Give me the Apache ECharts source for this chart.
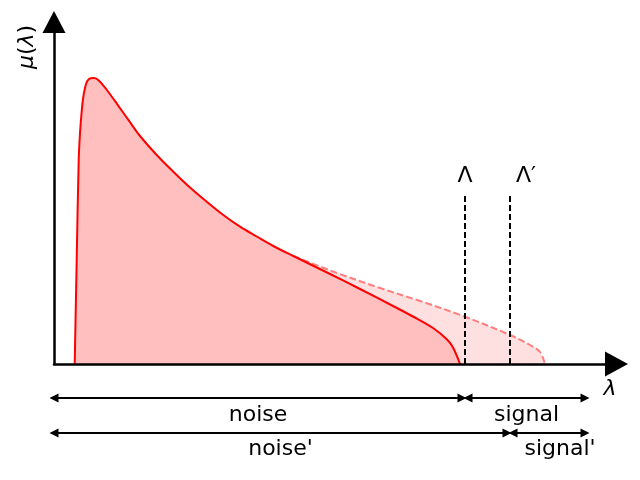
<!DOCTYPE html>
<html>
<head>
<meta charset="utf-8">
<script src="https://cdn.jsdelivr.net/npm/echarts@6/dist/echarts.min.js"></script>
<style>
  html, body { margin: 0; padding: 0; background: #fff; }
  #chart { width: 640px; height: 480px; }
</style>
</head>
<body>
<div id="chart"></div>
<script>
// spectrum mu(lambda)
const lam = [0.207, 0.227, 0.247, 0.26, 0.273, 0.29, 0.31, 0.333, 0.367, 0.40, 0.433, 0.483, 0.533,
  0.633, 0.767, 0.86, 1.027, 1.193, 1.36, 1.527, 1.693, 1.86, 2.027, 2.193, 2.393,
  2.73, 3.06, 3.39, 3.59, 3.79, 3.93, 3.99, 4.06]
const mu = [0, 1.04, 2.04, 2.31, 2.48, 2.65, 2.76, 2.83, 2.857, 2.86, 2.847, 2.797, 2.735,
  2.597, 2.408, 2.28, 2.09, 1.923, 1.765, 1.623, 1.49, 1.373, 1.275, 1.18, 1.08,
  0.915, 0.75, 0.58, 0.475, 0.36, 0.245, 0.165, 0]
// the other spectrum, dashed from where it leaves the first one
const lam2 = [2.393, 2.83, 3.26, 3.66, 4.09, 4.56, 4.76, 4.86, 4.91]
const mu2 = [1.08, 0.91, 0.76, 0.63, 0.48, 0.29, 0.19, 0.12, 0]
// cutoffs
const cutoffs = [4.11, 4.56]
const cutoffNames = ['Λ', 'Λ′']
const cutoffTop = 1.71
// ranges drawn under the axis
const rangeNames = ['noise', 'signal', "noise'", "signal'"]
const rangeFrom = [0, 4.14, 0, 4.59]
const rangeTo = [4.08, 5.31, 4.53, 5.31]
const rangeRow = [-0.34, -0.34, -0.69, -0.69]

const font = 'DejaVu Sans'
const chart = echarts.init(document.getElementById('chart'))

const pairs = (xs, ys) => xs.map((x, i) => [x, ys[i]])

const axisLine = (size) => ({
  show: true,
  onZero: true,
  symbol: ['none', 'triangle'],
  symbolSize: size,
  lineStyle: { color: '#000', width: 2.5 }
})

const labelOffsets = [[0, 17], [0, 17], [0, 16], [11, 16]]
const cutoffOffsets = [[0, -17], [16, -17]]
const textStyle = { color: '#000', fontSize: 22, fontFamily: font }

chart.setOption({
  animation: false,
  grid: { left: 54, right: 23.5, top: 22, bottom: 116 },
  xAxis: {
    type: 'value', min: 0, max: 5.625, z: 5,
    axisLine: axisLine([25, 23]),
    axisTick: { show: false }, axisLabel: { show: false }, splitLine: { show: false }
  },
  yAxis: {
    type: 'value', min: 0, max: 3.42, z: 5,
    axisLine: axisLine([23, 22]),
    axisTick: { show: false }, axisLabel: { show: false }, splitLine: { show: false }
  },
  graphic: [
    {
      type: 'text', x: 27, y: 47, rotation: Math.PI / 2,
      style: {
        text: '{i|μ}({i|λ})',
        rich: { i: { fontStyle: 'italic', fontSize: 22, fontFamily: font, fill: '#000' } },
        fontSize: 22, fontFamily: font, fill: '#000', align: 'center', verticalAlign: 'middle'
      }
    },
    {
      type: 'text', x: 610, y: 389,
      style: {
        text: 'λ', fontStyle: 'italic', fontSize: 22, fontFamily: font, fill: '#000',
        align: 'center', verticalAlign: 'middle'
      }
    }
  ],
  series: [
    {
      type: 'line',
      data: pairs(lam2, mu2),
      smooth: 0.35,
      symbol: 'none',
      lineStyle: { color: '#ff7f7f', width: 2, type: [7, 3] },
      areaStyle: { color: '#ffe0e0', opacity: 1 },
      z: 2
    },
    {
      type: 'line',
      data: pairs(lam, mu),
      smooth: 0.35,
      symbol: 'none',
      lineStyle: { color: '#ff0000', width: 2 },
      areaStyle: { color: '#ffbfbf', opacity: 1 },
      z: 3
    },
    {
      type: 'lines',
      coordinateSystem: 'cartesian2d',
      clip: false,
      symbol: 'none',
      lineStyle: { color: '#000', width: 2, type: [6, 3], opacity: 1 },
      data: cutoffs.map(c => ({ coords: [[c, 0], [c, cutoffTop]] })),
      z: 4
    },
    {
      type: 'lines',
      coordinateSystem: 'cartesian2d',
      clip: false,
      symbol: ['triangle', 'triangle'],
      symbolSize: 9,
      lineStyle: { color: '#000', width: 2, opacity: 1 },
      data: rangeNames.map((n, i) => ({ coords: [[rangeFrom[i], rangeRow[i]], [rangeTo[i], rangeRow[i]]] })),
      z: 4
    },
    {
      type: 'scatter',
      clip: false,
      symbolSize: 0,
      silent: true,
      itemStyle: { opacity: 1 },
      label: Object.assign({ show: true, position: 'inside', align: 'center', verticalAlign: 'middle' }, textStyle),
      data: rangeNames.map((n, i) => ({
        value: [(rangeFrom[i] + rangeTo[i]) / 2, rangeRow[i]],
        label: Object.assign({ formatter: n, offset: labelOffsets[i] }, textStyle)
      })).concat(cutoffs.map((c, i) => ({
        value: [c, cutoffTop],
        label: Object.assign({ formatter: cutoffNames[i], offset: cutoffOffsets[i] }, textStyle)
      }))),
      z: 6
    }
  ]
})
</script>
</body>
</html>
